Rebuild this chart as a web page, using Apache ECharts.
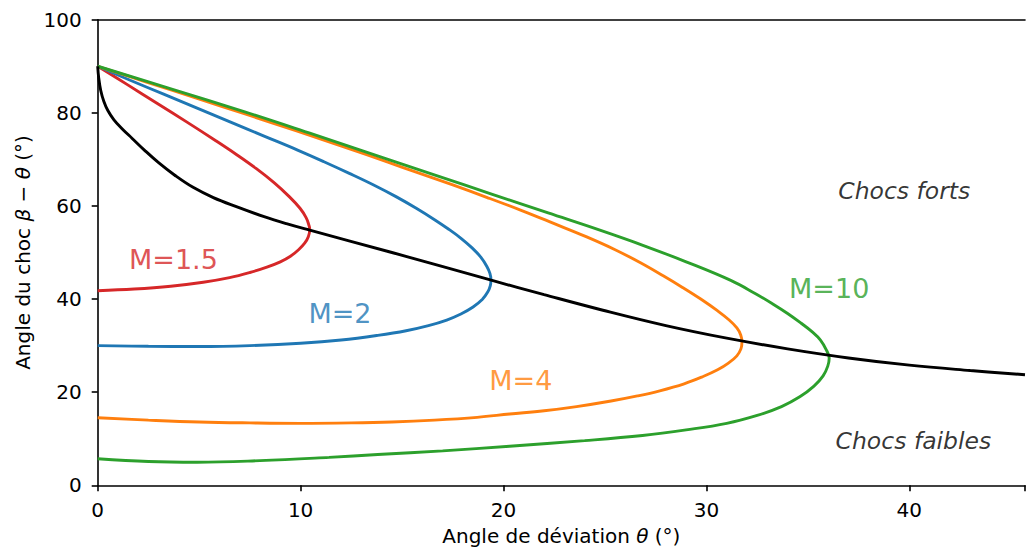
<!DOCTYPE html>
<html>
<head>
<meta charset="utf-8">
<script src="https://cdn.jsdelivr.net/npm/echarts@6/dist/echarts.min.js"></script>
<style>
html,body{margin:0;padding:0;background:#fff;}
#chart{width:1028px;height:553px;}
</style>
</head>
<body>
<div id="chart"></div>
<script>
// Angle de déviation θ (°) and angle du choc β−θ (°)
const thetaM15 = [0, 1.8, 3.6, 5.2, 6.5, 7.5, 8.3, 9.0, 9.5, 9.9, 10.2, 10.38, 10.45, 10.40, 10.27, 9.97, 9.44, 8.69, 7.82, 6.85, 5.82, 4.40, 2.94, 1.48, 0];
const yM15     = [41.8, 42.15, 42.75, 43.6, 44.6, 45.7, 46.8, 48.0, 49.2, 50.6, 52.0, 53.4, 55.0, 56.0, 57.5, 59.5, 62.0, 65.0, 68.0, 71.0, 74.0, 78.0, 82.0, 86.0, 90];

const thetaM2 = [0, 2.5, 5, 7.5, 10, 12, 13.8, 15.2, 16.3, 17.2, 17.9, 18.5, 18.95, 19.22, 19.35, 19.38, 19.33, 19.18, 18.88, 18.45, 17.92, 17.3, 16.62, 15.7, 14.7, 13.6, 12.4, 11.15, 9.85, 8.2, 6.55, 4.9, 3.25, 1.6, 0];
const yM2     = [30.0, 29.85, 29.8, 30.0, 30.5, 31.2, 32.2, 33.2, 34.3, 35.5, 36.8, 38.3, 39.9, 41.5, 42.9, 44.1, 45.5, 47.0, 49.0, 51.0, 53.0, 55.0, 57.0, 59.5, 62.0, 64.5, 67.0, 69.5, 72.0, 75.0, 78.0, 81.0, 84.0, 87.0, 90];

const thetaM4 = [0, 2.5, 5, 7.5, 10, 12.5, 14.5, 16.6, 18.7, 20.3, 22, 23.6, 25.3, 26.6, 27.7, 28.9, 29.8, 30.55, 31.1, 31.5, 31.7, 31.75, 31.69, 31.5, 31.12, 30.54, 29.72, 28.82, 27.87, 26.75, 25.5, 24.07, 22.5, 20.9, 19.2, 17.5, 15.8, 14.3, 12.2, 9.8, 7.3, 4.9, 2.4, 0];
const yM4     = [14.5, 14.0, 13.6, 13.4, 13.3, 13.4, 13.6, 14.0, 14.6, 15.3, 16.0, 16.9, 18.1, 19.2, 20.3, 21.8, 23.3, 24.8, 26.3, 27.8, 29.3, 30.8, 32.3, 33.8, 35.5, 37.5, 40.0, 42.5, 45.0, 47.8, 50.6, 53.4, 56.2, 59.0, 61.8, 64.5, 67.1, 69.4, 72.6, 76.1, 79.7, 83.1, 86.6, 90];

const thetaM10 = [0, 2.5, 4.9, 8, 11.4, 13.8, 17, 20.3, 24, 26.85, 29, 31, 32.5, 33.7, 34.6, 35.3, 35.75, 35.98, 36.05, 35.92, 35.62, 35.2, 34.67, 34.0, 33.25, 32.4, 31.2, 29.0, 26.9, 24.75, 22.2, 19.45, 16.7, 13.9, 10.6, 7.25, 3.65, 0];
const yM10     = [5.7, 5.1, 4.95, 5.3, 6.0, 6.6, 7.4, 8.4, 9.6, 10.7, 11.9, 13.3, 15.0, 16.9, 19.0, 21.3, 23.5, 25.6, 27.3, 29.0, 31.2, 33.0, 34.8, 36.9, 39.0, 41.2, 44.0, 48.0, 51.5, 54.8, 58.5, 62.5, 66.5, 70.6, 75.4, 80.2, 85.1, 90];

const thetaLim = [0, 0.05, 0.15, 0.3, 0.5, 0.8, 1.2, 1.7, 2.3, 3.0, 3.8, 4.7, 5.7, 6.8, 8.2, 9.3, 10.45, 14.5, 19.35, 22, 24.9, 28, 31, 34, 37, 40, 43, 45.7];
const yLim     = [90, 87.5, 84.8, 82.5, 80.5, 78.5, 76.6, 74.5, 72.0, 69.3, 66.6, 64.0, 61.8, 59.9, 57.7, 56.2, 54.8, 50.0, 44.1, 40.95, 37.6, 34.3, 31.6, 29.3, 27.35, 25.8, 24.65, 23.75];

const xTicks = [0, 10, 20, 30, 40];
const yTicks = [0, 20, 40, 60, 80, 100];

const machTexts = ['M=1.5', 'M=2', 'M=4', 'M=10'];
const machTheta = [3.73, 11.94, 20.85, 36.05];
const machY     = [48.6, 37.0, 22.6, 42.2];
const machColors = ['#d62728', '#1f77b4', '#ff7f0e', '#2ca02c'];

const regionTexts = ['Chocs forts', 'Chocs faibles'];
const regionTheta = [39.75, 40.2];
const regionY     = [63.2, 9.5];

function pairs(xs, ys) { return xs.map((x, i) => [x, ys[i]]); }

const FONT = 'DejaVu Sans';
const curves = [
  {name: 'M=1.5', d: pairs(thetaM15, yM15), c: machColors[0]},
  {name: 'M=2', d: pairs(thetaM2, yM2), c: machColors[1]},
  {name: 'M=4', d: pairs(thetaM4, yM4), c: machColors[2]},
  {name: 'M=10', d: pairs(thetaM10, yM10), c: machColors[3]},
  {name: 'limite', d: pairs(thetaLim, yLim), c: '#000000'}
];

const series = curves.map(cv => ({
  type: 'line', name: cv.name, data: cv.d, showSymbol: false, symbol: 'none',
  smooth: 0.4, lineStyle: {color: cv.c, width: 2.9}, silent: true, z: 2
}));

series.push({
  type: 'scatter', symbolSize: 0, silent: true, z: 5,
  data: machTexts.map((t, i) => ({
    value: [machTheta[i], machY[i]],
    label: {show: true, position: 'inside', formatter: t, color: machColors[i],
      fontFamily: FONT, fontSize: 27, align: 'center', verticalAlign: 'middle'}
  }))
});
series.push({
  type: 'scatter', symbolSize: 0, silent: true, z: 5,
  data: regionTexts.map((t, i) => ({
    value: [regionTheta[i], regionY[i]],
    label: {show: true, position: 'inside', formatter: t, color: '#000',
      fontFamily: FONT, fontStyle: 'italic', fontSize: 23.5, align: 'center', verticalAlign: 'middle'}
  }))
});

const chart = echarts.init(document.getElementById('chart'), null, {renderer: 'svg'});
const axisTxt = {color: '#000', fontFamily: FONT, fontSize: 20};
const nameStyle = {color: '#000', fontFamily: FONT, fontSize: 20,
  rich: {i: {color: '#000', fontFamily: FONT, fontSize: 20, fontStyle: 'italic'}}};
chart.setOption({
  animation: false,
  backgroundColor: '#fff',
  grid: {left: 97.7, right: -5, top: 19.7, bottom: 67.7, containLabel: false},
  xAxis: [{
    type: 'value', min: 0, max: 45.7, interval: 10,
    name: 'Angle de déviation {i|θ} (°)', nameLocation: 'middle', nameGap: 41,
    nameTextStyle: nameStyle,
    axisLine: {show: true, onZero: false, lineStyle: {color: '#000', width: 1.6}},
    axisTick: {show: true, length: 6, lineStyle: {color: '#000', width: 1.6}},
    axisLabel: Object.assign({margin: 15, formatter: v => xTicks.includes(v) ? String(v) : ''}, axisTxt),
    splitLine: {show: false}
  }, {
    type: 'value', position: 'top', min: 0, max: 45.7,
    axisLine: {show: true, onZero: false, lineStyle: {color: '#000', width: 1.6}},
    axisTick: {show: false}, axisLabel: {show: false}, splitLine: {show: false}
  }],
  yAxis: {
    type: 'value', min: 0, max: 100, interval: 20,
    name: 'Angle du choc {i|β} − {i|θ} (°)', nameLocation: 'middle', nameGap: 64,
    nameTextStyle: nameStyle,
    axisLine: {show: true, onZero: false, lineStyle: {color: '#000', width: 1.6}},
    axisTick: {show: true, length: 6, lineStyle: {color: '#000', width: 1.6}},
    axisLabel: Object.assign({margin: 16, formatter: v => yTicks.includes(v) ? String(v) : ''}, axisTxt),
    splitLine: {show: false}
  },
  series: series
});
</script>
</body>
</html>
